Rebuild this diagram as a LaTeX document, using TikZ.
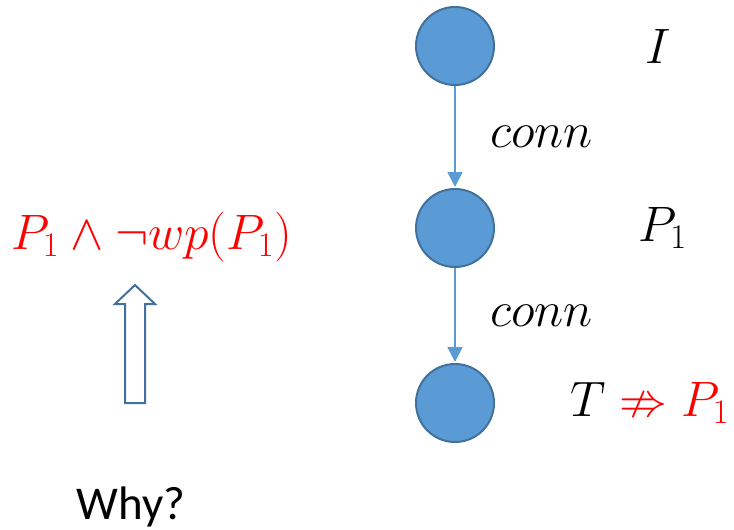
\documentclass[tikz,border=0pt]{standalone}
\usepackage{amsmath,amssymb}
\usepackage{fontspec}
\setsansfont{Carlito}
\usepackage{tikz}
\usetikzlibrary{arrows.meta,positioning}
\definecolor{stfill}{HTML}{5B9BD5}
\definecolor{stedge}{HTML}{41719C}
\definecolor{hotred}{HTML}{FF0000}

\begin{document}
\begin{tikzpicture}[
  x=0.5pt, y=0.5pt,
  font=\fontsize{24}{28}\selectfont,
  state/.style={circle, draw=stedge, fill=stfill, line width=1pt,
    minimum size=39pt, inner sep=0pt},
  trans/.style={-{Triangle[length=7.5pt, width=7.5pt]}, stfill, line width=0.8pt,
    shorten >=0.5pt},
  edgelbl/.style={midway, right=14pt, text=black},
  hollowarr/.style={draw=stedge, fill=white, line width=1pt, line join=miter}
]
\useasboundingbox (0,0) rectangle (734,-530);
% states
\node[state] (init) at (455,-46) {};
\node[state] (mid) at (455,-228) {};
\node[state] (fin) at (455,-403) {};
\draw[trans] (init) -- node[edgelbl] {$conn$} (mid);
\draw[trans] (mid) -- node[edgelbl] {$conn$} (fin);
% state labels
\node (lblI) at (658,-46) {$I$};
\node (lblP) at (663,-228) {$P_1$};
\node[anchor=east, inner sep=1pt] (lblT) at (732,-403)
  {$T \textcolor{hotred}{{}\nRightarrow P_1}$};
% left side
\node[text=hotred] (cex) at (152,-237) {$P_1 \land \neg wp(P_1)$};
\coordinate (hb) at (135,-403);
\draw[hollowarr] (hb) ++(-10,0) -- ++(0,99) -- ++(-10,0) -- ++(20,19)
  -- ++(20,-19) -- ++(-10,0) -- ++(0,-99) -- cycle;
\node[anchor=base, font=\sffamily\fontsize{23.5}{28}\selectfont] (why) at (131,-519) {Why?};
\end{tikzpicture}
\end{document}
